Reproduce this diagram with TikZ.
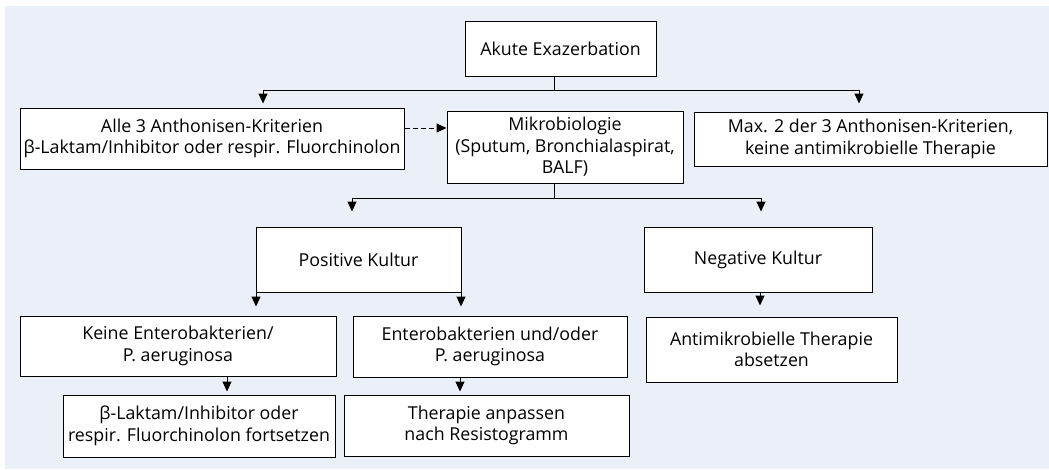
\documentclass[tikz,border=0pt]{standalone}
\usepackage{fontspec}
\setmainfont{Open Sans}
\usetikzlibrary{arrows.meta}
\usetikzlibrary{calc}
\definecolor{bgblue}{RGB}{235,239,248}
\tikzset{box/.style={rectangle,draw=black,fill=white,line width=1pt,align=center,
inner sep=0pt, font=\fontsize{17.8}{21.5}\selectfont},
line/.style={line width=1pt},
arr/.style={line, ->},
>={Triangle[length=10pt,width=9pt]}}

\begin{document}
\begin{tikzpicture}[x=1pt,y=-1pt]
  \useasboundingbox (0,0) rectangle (1049,469);
  \fill [bgblue] (5,6) rectangle (1049,469);
  % boxes
  \node (akut) [box,minimum width=191pt,minimum height=55pt] at (560.5,48.5) {Akute Exazerbation};
  \node (alle) [box,minimum width=384pt,minimum height=61pt] at (212,138.5) {Alle 3 Anthonisen-Kriterien\\β-Laktam/Inhibitor oder respir. Fluorchinolon};
  \node (mikro) [box,minimum width=236pt,minimum height=72pt] at (565,147) {Mikrobiologie\\(Sputum, Bronchialaspirat,\\BALF)};
  \node (max) [box,minimum width=353pt,minimum height=54pt] at (870.5,139) {Max. 2 der 3 Anthonisen-Kriterien,\\keine antimikrobielle Therapie};
  \node (pos) [box,minimum width=205pt,minimum height=65pt] at (358.5,259.5) {Positive Kultur};
  \node (neg) [box,minimum width=228pt,minimum height=65pt] at (758,259.5) {Negative Kultur};
  \node (keine) [box,minimum width=316pt,minimum height=60pt] at (178,346) {Keine Enterobakterien/\\P. aeruginosa};
  \node (entero) [box,minimum width=274pt,minimum height=61pt] at (490,346.5) {Enterobakterien und/oder\\P. aeruginosa};
  \node (fort) [box,minimum width=272pt,minimum height=62pt] at (199,426) {β-Laktam/Inhibitor oder\\respir. Fluorchinolon fortsetzen};
  \node (anpass) [box,minimum width=285pt,minimum height=61pt] at (486.5,425.5) {Therapie anpassen\\nach Resistogramm};
  \node (absetz) [box,minimum width=251pt,minimum height=65pt] at (771.5,349.5) {Antimikrobielle Therapie\\absetzen};
  % connectors
  \coordinate (j1) at (554,90);
  \coordinate (j2) at (554,198);
  \draw [line] (j1 |- akut.south) -- (j1);
  \draw [arr] (j1) -| ([xshift=51pt,yshift=4pt]alle.north);
  \draw [arr] (j1) -| ([xshift=-11.5pt,yshift=8pt]max.north);
  \draw [arr,dashed,dash pattern=on 5pt off 3pt] ([yshift=10.5pt]alle.east) -- ([yshift=10.5pt]alle.east -| mikro.west);
  \draw [line] (j2 |- mikro.south) -- (j2);
  \draw [arr] (j2) -| ([xshift=-6.5pt,yshift=15pt]pos.north);
  \draw [arr] (j2) -| ([xshift=3pt,yshift=15pt]neg.north);
  \draw [arr,shorten >=9pt] ([xshift=0.5pt]pos.south west) -- ([xshift=0.5pt]pos.south west |- keine.north);
  \draw [arr,shorten >=9pt] ([xshift=-0.5pt]pos.south east) -- ([xshift=-0.5pt]pos.south east |- entero.north);
  \draw [arr,shorten >=11pt] ([xshift=2pt]neg.south) -- ([xshift=2pt]neg.south |- absetz.north);
  \draw [arr,shorten >=3pt] ([xshift=49pt]keine.south) -- ([xshift=49pt]keine.south |- fort.north);
  \draw [arr,shorten >=3pt] ([xshift=-30pt]entero.south) -- ([xshift=-30pt]entero.south |- anpass.north);
\end{tikzpicture}
\end{document}
